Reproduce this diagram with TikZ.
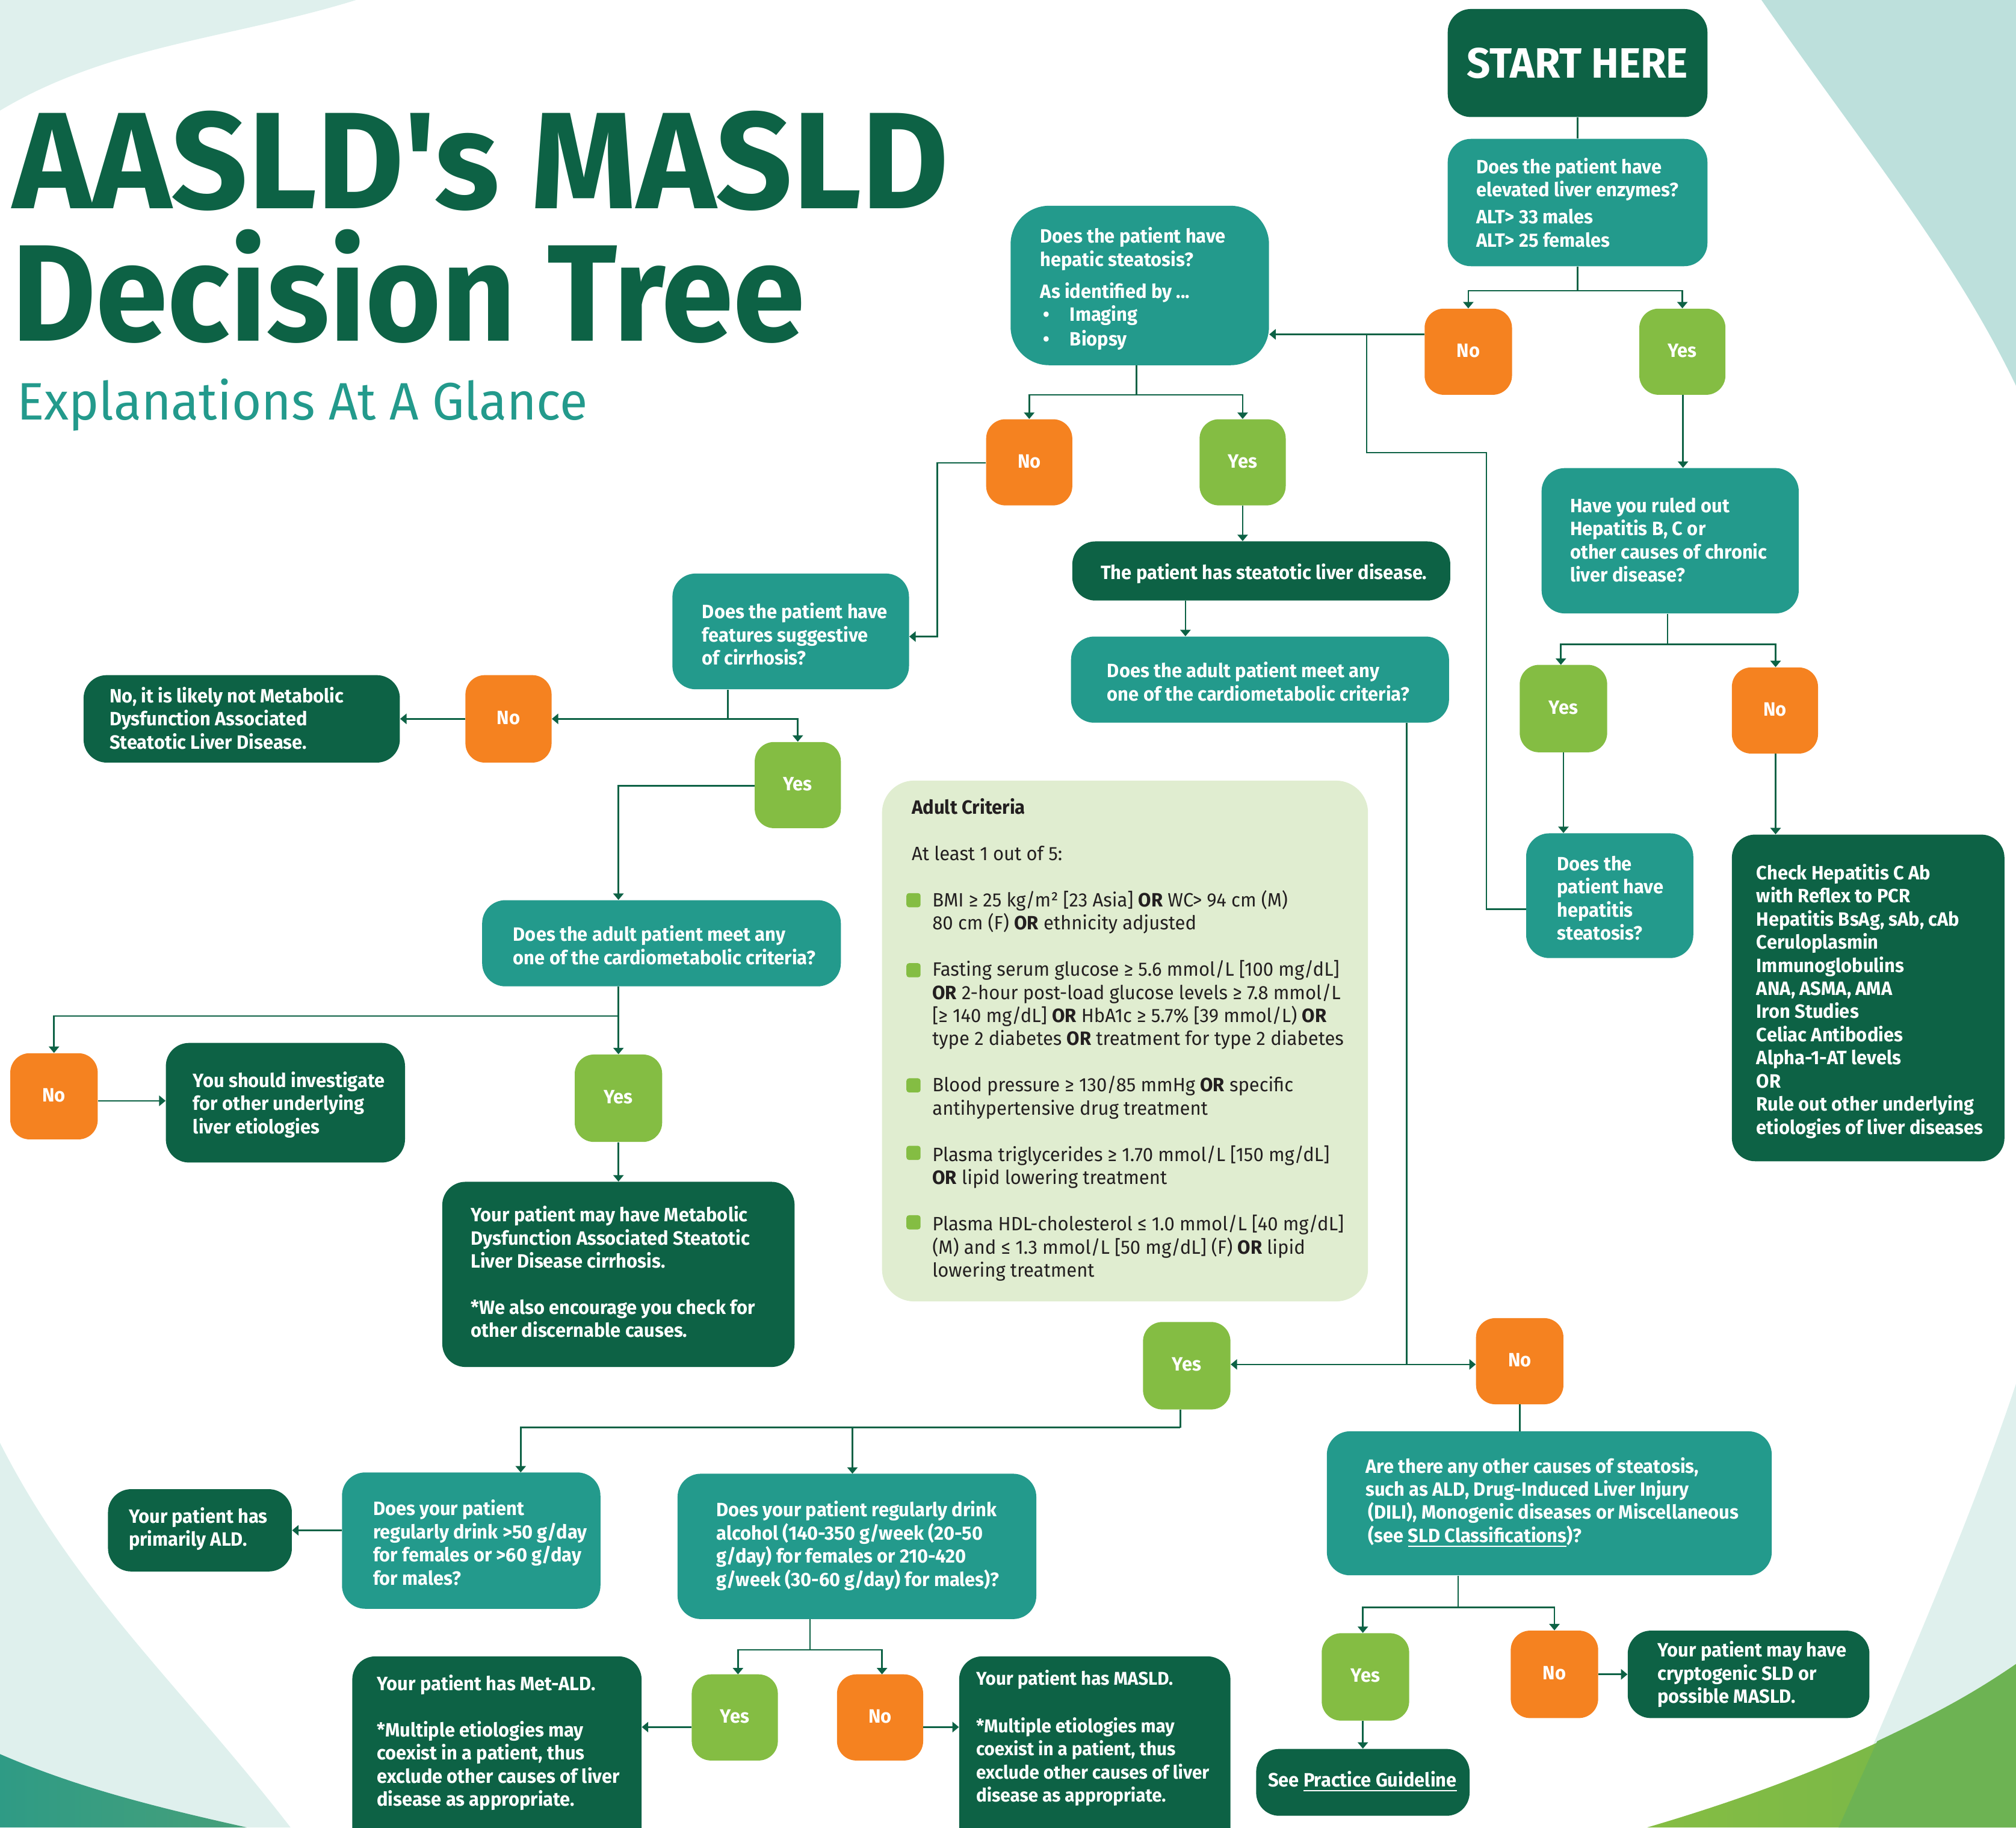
\documentclass[tikz,border=0pt]{standalone}
\usepackage{fontspec}
\usetikzlibrary{arrows.meta,calc}
\newfontfamily\boxfont[FakeStretch=0.963]{Fira Sans}
\newfontfamily\startfont[FakeStretch=0.975]{Fira Sans}
\newfontfamily\critfont[FakeStretch=0.968]{Fira Sans}
\newfontfamily\titlefont[FakeStretch=0.975]{Fira Sans}
\newfontfamily\titlefontb[FakeStretch=0.943]{Fira Sans}
\newfontfamily\subfont[FakeStretch=0.966]{Fira Sans}
\definecolor{dkgreen}{HTML}{0D6245}
\definecolor{teal2}{HTML}{239A8C}
\definecolor{orange2}{HTML}{F58220}
\definecolor{green2}{HTML}{84BD43}
\definecolor{crit}{HTML}{E0EDD0}
\definecolor{pale}{HTML}{DFF0ED}
\definecolor{pale2}{HTML}{BDE0DC}
\definecolor{inkc}{HTML}{231F20}
\definecolor{bla}{HTML}{2F9B85}
\definecolor{blb}{HTML}{46A07A}
\definecolor{bra}{HTML}{85BD43}
\definecolor{brb}{HTML}{76B64A}
\definecolor{brc}{HTML}{6DB353}
\newcommand\ulx[1]{{\setbox0\hbox{#1}\rlap{\raisebox{-3.5pt}{\rule{\wd0}{1pt}}}\box0}}
\newcommand\bx[6]{\node[#1,minimum width={(#5-#3)*1pt},minimum height={(#6-#4)*1pt}] (#2) at ({(#3+#5)/2},{(#4+#6)/2}) {};}
\newcommand\yn[6]{\node[#1,minimum width={(#5-#3)*1pt},minimum height={(#6-#4)*1pt}] (#2) at ({(#3+#5)/2},{(#4+#6)/2}) {\raisebox{2pt}{\bfseries Yes}};}
\newcommand\nn[6]{\node[#1,minimum width={(#5-#3)*1pt},minimum height={(#6-#4)*1pt}] (#2) at ({(#3+#5)/2},{(#4+#6)/2}) {\raisebox{2pt}{\bfseries No}};}
\newcommand\tx[4]{\node[txtw] (#1) at (#2,#3) {#4};}
\tikzset{
  basebox/.style={shape=rectangle,inner sep=0pt,draw=none,rounded corners=18pt},
  dk/.style={basebox,fill=dkgreen},
  tl/.style={basebox,fill=teal2},
  yesbox/.style={basebox,fill=green2,rounded corners=15pt,text=white,font=\boxfont\fontsize{15}{18}\selectfont},
  nobox/.style={basebox,fill=orange2,rounded corners=15pt,text=white,font=\boxfont\fontsize{15}{18}\selectfont},
  txtw/.style={anchor=west,inner sep=0pt,align=left,text=white,font=\boxfont\fontsize{15}{18}\selectfont\bfseries},
  conn/.style={draw=dkgreen,line width=1.2pt},
  arr/.style={conn,-{Triangle[width=8pt,length=5pt]}},
  bull/.style={shape=rectangle,inner sep=0pt,fill=green2,rounded corners=2pt,minimum width=11pt,minimum height=11pt}
}
\begin{document}
\begin{tikzpicture}[x=1pt,y=-1pt]
\useasboundingbox (0,0) rectangle (1568,1421.07);
\clip (0,0) rectangle (1568,1421.07);
% backgrounds
\fill[pale] (0,0) -- (277,0) .. controls (180,30) and (85,35) .. (0,86) -- cycle;
\fill[pale2] (1370,0) .. controls (1450,115) and (1520,200) .. (1568,300) -- (1568,0) -- cycle;
\fill[pale] (0,1122) .. controls (60,1240) and (140,1310) .. (226,1421.07) -- (0,1421.07) -- cycle;
\shade[left color=bla,right color=blb] (0,1364) .. controls (60,1390) and (120,1405) .. (192,1421.07) -- (0,1421.07) -- cycle;
\fill[pale] (1568,1076) .. controls (1530,1190) and (1480,1300) .. (1430,1421.07) -- (1568,1421.07) -- cycle;
\shade[left color=bra,right color=brb] (1281,1421.07) .. controls (1370,1395) and (1480,1355) .. (1568,1294) -- (1568,1421.07) -- cycle;
\fill[brc] (1460,1354) .. controls (1500,1335) and (1530,1320) .. (1568,1294) -- (1568,1421.07) -- (1430,1421.07) -- cycle;
% title
\node[anchor=base west,inner sep=0pt,text=dkgreen,font=\titlefont\fontsize{107}{107}\selectfont\bfseries] (title1) at (10,162) {AASLD's MASLD};
\node[anchor=base west,inner sep=0pt,text=dkgreen,font=\titlefontb\fontsize{107}{107}\selectfont\bfseries] (title2) at (9,265) {Decision Tree};
\node[anchor=base west,inner sep=0pt,text=teal2,font=\subfont\fontsize{41}{41}\selectfont] (title3) at (13,326.5) {Explanations At A Glance};
% boxes
\bx{dk}{start}{1126}{7}{1328}{91}
\bx{tl}{q1}{1126}{108}{1328}{207}
\nn{nobox}{no1}{1108}{240}{1176}{307}
\yn{yesbox}{yes1}{1275}{240}{1342}{307}
\bx{tl,rounded corners=30pt}{qs}{786}{160}{987}{284}
\nn{nobox}{no2}{767}{326}{834}{393}
\yn{yesbox}{yes2}{933}{326}{1000}{393}
\bx{tl}{ruled}{1199}{364}{1399}{477}
\bx{dk}{steat}{834}{421}{1128}{467}
\bx{tl}{adultA}{833}{495}{1127}{562}
\bx{tl}{cirr}{523}{446}{707}{536}
\bx{dk}{unlikely}{65}{525}{311}{593}
\nn{nobox}{no3}{362}{525}{429}{593}
\yn{yesbox}{yes3}{587}{577}{654}{644}
\bx{tl}{adultB}{375}{700}{654}{767}
\nn{nobox}{no4}{8}{819}{76}{886}
\bx{dk}{invest}{129}{811}{315}{904}
\yn{yesbox}{yes4}{447}{820}{515}{888}
\bx{dk}{cirrres}{344}{919}{618}{1063}
\yn{yesbox}{yes5}{1182}{517}{1250}{585}
\nn{nobox}{no5}{1347}{519}{1414}{586}
\bx{tl}{hep}{1187}{648}{1317}{745}
\bx{dk}{check}{1347}{649}{1559}{903}
\bx{basebox,fill=crit,rounded corners=25pt}{criteria}{686}{607}{1064}{1012}
\yn{yesbox}{yes6}{889}{1028}{957}{1096}
\nn{nobox}{no6}{1148}{1025}{1216}{1092}
\bx{tl}{other}{1032}{1113}{1378}{1225}
\yn{yesbox}{yes7}{1028}{1270}{1096}{1338}
\nn{nobox}{no7}{1175}{1268}{1243}{1336}
\bx{dk}{crypto}{1266}{1268}{1454}{1336}
\bx{dk}{guide}{977}{1360}{1143}{1412}
\bx{tl}{drinkB}{527}{1146}{806}{1259}
\bx{tl}{drinkA}{266}{1145}{467}{1251}
\bx{dk}{ald}{84}{1158}{227}{1222}
\yn{yesbox}{yes8}{538}{1302}{605}{1369}
\nn{nobox}{no8}{651}{1302}{718}{1369}
\bx{dk}{metald}{274}{1288}{499}{1440}
\bx{dk}{masld}{746}{1288}{957}{1440}
% texts
\node[anchor=center,inner sep=0pt,text=white,font=\startfont\fontsize{33}{33}\selectfont\bfseries] (startt) at (1227,49) {START HERE};
\tx{q1t}{1148}{157.5}{Does the patient have\\elevated liver enzymes?\\[3pt]ALT> 33 males\\ALT> 25 females}
\tx{qst}{809}{224.5}{Does the patient have\\hepatic steatosis?\\[7pt]As identified by ...\\\makebox[23pt][l]{\hspace{2pt}•}Imaging\\[1pt]\makebox[23pt][l]{\hspace{2pt}•}Biopsy}
\tx{ruledt}{1221}{420}{Have you ruled out\\Hepatitis B, C or\\other causes of chronic\\liver disease?}
\tx{steatt}{856}{446}{The patient has steatotic liver disease.}
\tx{adultAt}{861}{530}{Does the adult patient meet any\\one of the cardiometabolic criteria?}
\tx{cirrt}{546}{493}{Does the patient have\\features suggestive\\of cirrhosis?}
\tx{unlikelyt}{85}{558.5}{No, it is likely not Metabolic\\Dysfunction Associated\\Steatotic Liver Disease.}
\tx{adultBt}{399}{735}{Does the adult patient meet any\\one of the cardiometabolic criteria?}
\tx{investt}{150}{859}{You should investigate\\for other underlying\\liver etiologies}
\tx{cirrrest}{366}{989}{Your patient may have Metabolic\\Dysfunction Associated Steatotic\\Liver Disease cirrhosis.\\[18pt]*We also encourage you check for\\other discernable causes.}
\tx{hept}{1211}{698.5}{Does the\\patient have\\hepatitis\\steatosis?}
\tx{checkt}{1366}{778.5}{Check Hepatitis C Ab\\with Reflex to PCR\\Hepatitis BsAg, sAb, cAb\\Ceruloplasmin\\Immunoglobulins\\ANA, ASMA, AMA\\Iron Studies\\Celiac Antibodies\\Alpha-1-AT levels\\OR\\Rule out other underlying\\etiologies of liver diseases}
\tx{othert}{1062}{1168}{Are there any other causes of steatosis,\\such as ALD, Drug-Induced Liver Injury\\\hspace*{2pt}(DILI), Monogenic diseases or Miscellaneous\\\hspace*{2pt}(see \ulx{SLD Classifications})?}
\tx{cryptot}{1289}{1302}{Your patient may have\\cryptogenic SLD or\\possible MASLD.}
\tx{guidet}{986}{1385}{See \ulx{Practice Guideline}}
\tx{drinkBt}{557}{1202}{Does your patient regularly drink\\alcohol (140-350 g/week (20-50\\g/day) for females or 210-420\\g/week (30-60 g/day) for males)?}
\tx{drinkAt}{290}{1199.5}{Does your patient\\regularly drink >50 g/day\\for females or >60 g/day\\for males?}
\tx{aldt}{100}{1189}{Your patient has\\primarily ALD.}
\tx{metaldt}{293}{1355}{Your patient has Met-ALD.\\[18pt]*Multiple etiologies may\\coexist in a patient, thus\\exclude other causes of liver\\disease as appropriate.}
\node[txtw,font=\boxfont\fontsize{14.4}{18}\selectfont\bfseries] (masldt) at (759,1351.5) {Your patient has MASLD.\\[19pt]*Multiple etiologies may\\coexist in a patient, thus\\exclude other causes of liver\\disease as appropriate.};
% criteria
\node[anchor=west,inner sep=0pt,align=left,text=inkc,font=\critfont\fontsize{15}{18}\selectfont] (critt) at (709,808.5) {{\bfseries Adult Criteria}\\[18pt]At least 1 out of 5:\\[18pt]
\hspace*{16pt}BMI ≥ 25 kg/m² [23 Asia] {\bfseries OR} WC> 94 cm (M)\\
\hspace*{16pt}80 cm (F) {\bfseries OR} ethnicity adjusted\\[18pt]
\hspace*{16pt}Fasting serum glucose ≥ 5.6 mmol/L [100 mg/dL]\\
\hspace*{16pt}{\bfseries OR} 2-hour post-load glucose levels ≥ 7.8 mmol/L\\
\hspace*{16pt}[≥ 140 mg/dL] {\bfseries OR} HbA1c ≥ 5.7\% [39 mmol/L) {\bfseries OR}\\
\hspace*{16pt}type 2 diabetes {\bfseries OR} treatment for type 2 diabetes\\[18pt]
\hspace*{16pt}Blood pressure ≥ 130/85 mmHg {\bfseries OR} specific\\
\hspace*{16pt}antihypertensive drug treatment\\[18pt]
\hspace*{16pt}Plasma triglycerides ≥ 1.70 mmol/L [150 mg/dL]\\
\hspace*{16pt}{\bfseries OR} lipid lowering treatment\\[18pt]
\hspace*{16pt}Plasma HDL-cholesterol ≤ 1.0 mmol/L [40 mg/dL]\\
\hspace*{16pt}(M) and ≤ 1.3 mmol/L [50 mg/dL] (F) {\bfseries OR} lipid\\
\hspace*{16pt}lowering treatment};
\node[bull] (b1) at (710.5,700) {};
\node[bull] (b2) at (710.5,754.5) {};
\node[bull] (b3) at (710.5,844) {};
\node[bull] (b4) at (710.5,896.5) {};
\node[bull] (b5) at (710.5,950.5) {};
% junctions
\coordinate (j1) at (1227,226);
\coordinate (c1) at (1063,260);
\coordinate (c2) at (1156,352);
\coordinate (c3) at (1156,707);
\coordinate (j2) at (884,307);
\coordinate (k1) at (729,360);
\coordinate (k2) at (729,495);
\coordinate (s2) at (922,467);
\coordinate (m1) at (1094,1061);
\coordinate (m2) at (1182,1092);
\coordinate (j3) at (1134,1250);
\coordinate (n1) at (1254,1302);
\coordinate (g1) at (1060,1338);
\coordinate (j4) at (918,1110);
\coordinate (t5) at (405,1145);
\coordinate (t6) at (663,1146);
\coordinate (d1) at (240,1190);
\coordinate (j5) at (630,1283);
\coordinate (t7) at (574,1302);
\coordinate (t8) at (686,1302);
\coordinate (e1) at (520,1343);
\coordinate (e2) at (730,1343);
\coordinate (j6) at (566,559);
\coordinate (f1) at (481,611);
\coordinate (j7) at (481,790);
\coordinate (i1) at (100,856);
\coordinate (j8) at (1297,501);
\coordinate (h0) at (1214,517);
\coordinate (h2) at (1381,600);
\coordinate (y1) at (1309,330);
\coordinate (u1) at (340,559);
% connectors
\draw[conn] (start.south) -- (q1.north);
\draw[conn] (q1.south) -- (j1);
\draw[arr] (j1) -| (no1.north);
\draw[arr] (j1) -| (yes1.north);
\draw[arr] (c1 -| no1.west) -- (c1 -| qs.east);
\draw[conn] (c1) -- (c1 |- c2) -- (c2) -- (c3) -- (c3 -| hep.west);
\draw[arr] (yes1.south -| y1) -- (ruled.north -| y1);
\draw[conn] (j2 |- qs.south) -- (j2);
\draw[arr] (j2) -| (no2.north);
\draw[arr] (j2) -| (yes2.north);
\draw[arr] (k1 -| no2.west) -- (k1) -- (k2) -- (k2 -| cirr.east);
\draw[arr] (yes2.south) -- (yes2.south |- steat.north);
\draw[arr] (s2) -- (s2 |- adultA.north);
\draw[conn] (m1 |- adultA.south) -- (m1);
\draw[arr] (m1) -- (m1 -| yes6.east);
\draw[arr] (m1) -- (m1 -| no6.west);
\draw[conn] (m2) -- (m2 |- other.north);
\draw[conn] (j3 |- other.south) -- (j3);
\draw[arr] (j3) -| (g1 |- yes7.north);
\draw[arr] (j3) -| (no7.north);
\draw[arr] (n1 -| no7.east) -- (n1 -| crypto.west);
\draw[arr] (g1) -- (g1 |- guide.north);
\draw[conn] (j4 |- yes6.south) -- (j4);
\draw[arr] (j4) -| (t5);
\draw[arr] (j4) -| (t6);
\draw[arr] (d1 -| drinkA.west) -- (d1 -| ald.east);
\draw[conn] (j5 |- drinkB.south) -- (j5);
\draw[arr] (j5) -| (t7);
\draw[arr] (j5) -| (t8);
\draw[arr] (e1 -| yes8.west) -- (e1 -| metald.east);
\draw[arr] (e2 -| no8.east) -- (e2 -| masld.west);
\draw[conn] (j6 |- cirr.south) -- (j6);
\draw[arr] (j6) -- (j6 -| no3.east);
\draw[arr] (j6) -| (yes3.north);
\draw[arr] (u1 -| no3.west) -- (u1 -| unlikely.east);
\draw[arr] (f1 -| yes3.west) -- (f1) -- (f1 |- adultB.north);
\draw[conn] (j7 |- adultB.south) -- (j7);
\draw[arr] (j7) -| (no4.north);
\draw[arr] (j7) -- (j7 |- yes4.north);
\draw[arr] (i1 -| no4.east) -- (i1 -| invest.west);
\draw[arr] (yes4.south) -- (yes4.south |- cirrres.north);
\draw[conn] (j8 |- ruled.south) -- (j8);
\draw[arr] (j8) -| (h0);
\draw[arr] (j8) -| (h2 |- no5.north);
\draw[arr] (yes5.south) -- (yes5.south |- hep.north);
\draw[arr] (h2 |- no5.south) -- (h2 |- check.north);
\end{tikzpicture}
\end{document}
